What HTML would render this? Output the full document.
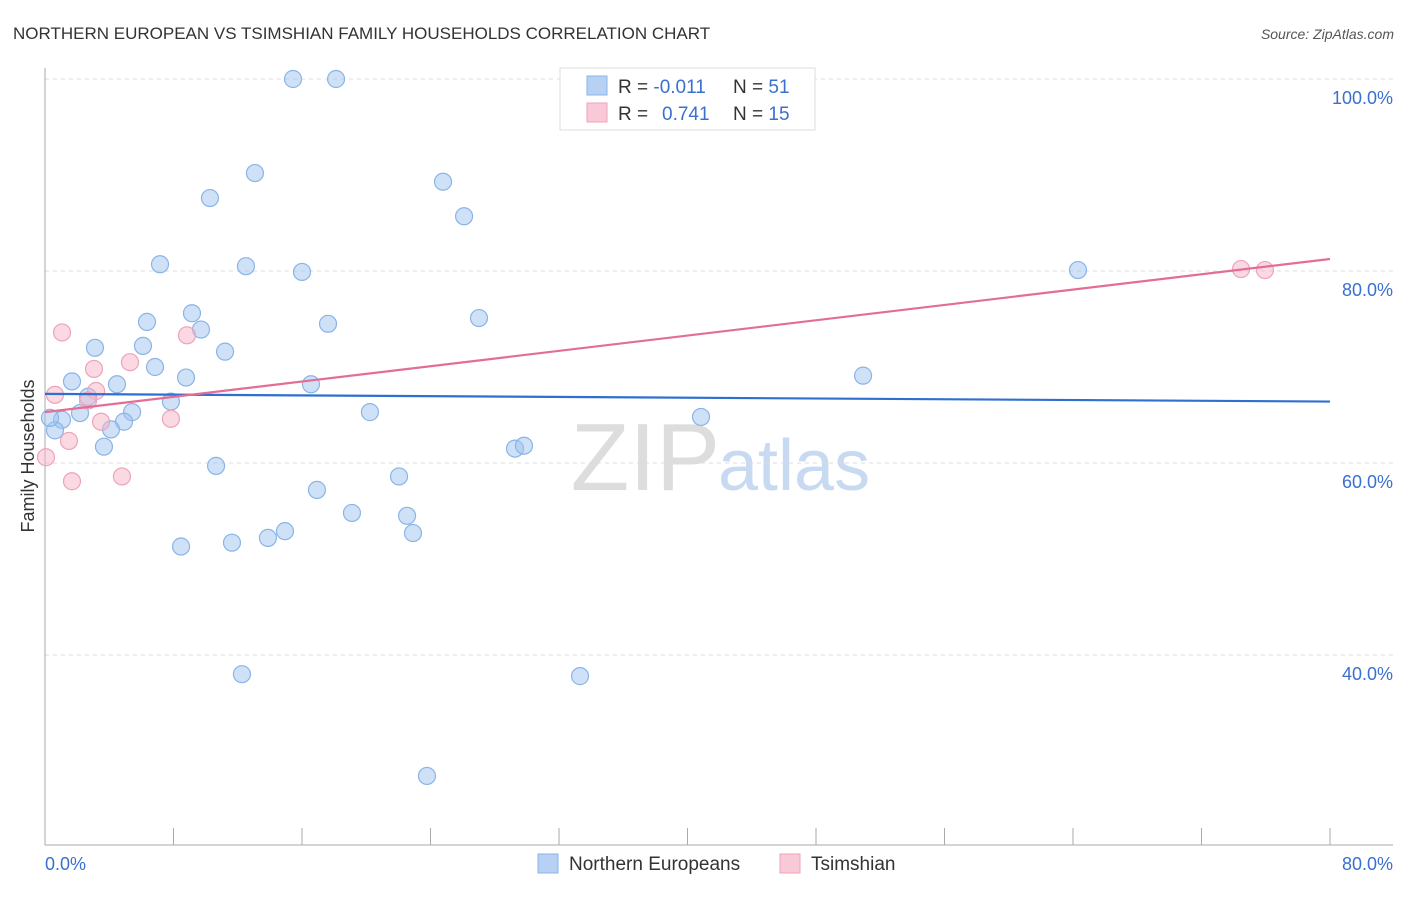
<!DOCTYPE html>
<html><head><meta charset="utf-8"><style>
body{margin:0;background:#fff;font-family:"Liberation Sans",sans-serif;}
svg text{font-family:"Liberation Sans",sans-serif;}
</style></head><body>
<svg id="chart" width="1406" height="892" viewBox="0 0 1406 892">
<text x="13" y="39" font-size="17" fill="#333">NORTHERN EUROPEAN VS TSIMSHIAN FAMILY HOUSEHOLDS CORRELATION CHART</text>
<text x="1394" y="39" font-size="14" fill="#555" text-anchor="end" font-style="italic">Source: ZipAtlas.com</text>
<text x="720" y="490" font-size="96" fill="#ddd" text-anchor="end" font-family="Liberation Serif">ZIP</text>
<text x="718" y="490" font-size="72" fill="#c8daf2">atlas</text>
<g id="grid"></g>
<g id="axes"></g>
<g id="marks"></g>
<text transform="translate(34,456) rotate(-90)" font-size="18" fill="#333" text-anchor="middle">Family Households</text>
<g>
<rect x="560" y="68" width="255" height="62" fill="#fff" stroke="#ddd"/>
<rect x="587" y="76" width="20" height="19" fill="#b7d1f5" stroke="#8ab4e8"/>
<text x="618" y="93" font-size="19" fill="#333">R = <tspan fill="#3a6fd0">-0.011</tspan><tspan x="733">N = </tspan><tspan fill="#3a6fd0">51</tspan></text>
<rect x="587" y="103" width="20" height="19" fill="#f9c9d8" stroke="#eda3bb"/>
<text x="618" y="120" font-size="19" fill="#333">R = <tspan x="662" fill="#3a6fd0">0.741</tspan><tspan x="733">N = </tspan><tspan fill="#3a6fd0">15</tspan></text>
</g>
<g>
<rect x="538" y="854" width="20" height="19" fill="#b7d1f5" stroke="#8ab4e8"/>
<text x="569" y="870" font-size="19" fill="#333">Northern Europeans</text>
<rect x="780" y="854" width="20" height="19" fill="#f9c9d8" stroke="#eda3bb"/>
<text x="811" y="870" font-size="19" fill="#333">Tsimshian</text>
</g>
</svg>
<script>
const blueX=[15.44,18.12,13.07,10.27,24.78,26.09,7.16,12.51,16.0,64.31,9.15,6.35,17.62,27.02,9.71,6.10,3.11,11.21,6.85,8.78,50.93,1.68,4.48,16.56,2.68,7.84,5.42,2.18,20.23,1.06,4.92,4.11,0.62,40.84,3.67,29.26,29.82,10.65,22.04,16.93,19.11,22.54,13.88,14.94,11.64,8.47,22.91,12.26,33.31,23.78,0.31];
const blueY=[100,100,90.2,87.6,89.3,85.7,80.7,80.5,79.9,80.1,75.6,74.7,74.5,75.1,73.9,72.2,72.0,71.6,70.0,68.9,69.1,68.5,68.2,68.2,66.9,66.4,65.3,65.2,65.3,64.5,64.3,63.5,63.4,64.8,61.7,61.5,61.8,59.7,58.6,57.2,54.8,54.5,52.2,52.9,51.7,51.3,52.7,38.0,37.8,27.4,64.7];
const pinkX=[0.62,1.06,3.05,3.18,2.68,3.49,1.49,0.06,1.68,4.79,5.29,8.84,7.84,74.46,75.95];
const pinkY=[67.1,73.6,69.8,67.5,66.5,64.3,62.3,60.6,58.1,58.6,70.5,73.3,64.6,80.2,80.1];
const blueTrend=[67.2,66.4];
const pinkTrend=[65.3,81.25];
const yTicks=[100,80,60,40];
const yTickLabels=["100.0%","80.0%","60.0%","40.0%"];
const xTickLabels=["0.0%","80.0%"];
const X=v=>45+v*(1285/80), Y=v=>79+(100-v)*9.6;
const NS="http://www.w3.org/2000/svg";
function mk(t,a,p){const e=document.createElementNS(NS,t);for(const k in a)e.setAttribute(k,a[k]);p.appendChild(e);return e;}
const grid=document.getElementById('grid'),axes=document.getElementById('axes'),marks=document.getElementById('marks');
yTicks.forEach((v,i)=>{
 const l=mk('line',{x1:45,x2:1393,y1:Y(v),y2:Y(v),stroke:'#ddd','stroke-dasharray':'4,4'},grid);
 
 
 const t=mk('text',{x:1393,y:Y(v)+25,'font-size':18,fill:'#3a6fd0','text-anchor':'end'},axes);
 t.textContent=yTickLabels[i];
 
 
});
let a=mk('line',{x1:45,x2:45,y1:68,y2:845,stroke:'#aaa'},axes);


a=mk('line',{x1:45,x2:1393,y1:845,y2:845,stroke:'#aaa'},axes);


for(let i=0;i<=10;i++){const t=mk('line',{x1:X(i*8),x2:X(i*8),y1:828,y2:845,stroke:'#aaa'},axes);
 
 }
let t1=mk('text',{x:45,y:870,'font-size':18,fill:'#3a6fd0'},axes);t1.textContent=xTickLabels[0];


t1=mk('text',{x:1393,y:870,'font-size':18,fill:'#3a6fd0','text-anchor':'end'},axes);t1.textContent=xTickLabels[1];


blueX.forEach((x,i)=>{const c=mk('circle',{cx:X(x),cy:Y(blueY[i]),r:8.5,fill:'rgba(160,195,240,0.5)',stroke:'#8ab4e8','stroke-width':1.2},marks);
 
 });
pinkX.forEach((x,i)=>{const c=mk('circle',{cx:X(x),cy:Y(pinkY[i]),r:8.5,fill:'rgba(245,180,200,0.5)',stroke:'#eda3bb','stroke-width':1.2},marks);
 
 });
let tl=mk('line',{x1:X(0),x2:X(80),y1:Y(blueTrend[0]),y2:Y(blueTrend[1]),stroke:'#2f6fd0','stroke-width':2.2},marks);


tl=mk('line',{x1:X(0),x2:X(80),y1:Y(pinkTrend[0]),y2:Y(pinkTrend[1]),stroke:'#e46d96','stroke-width':2.2},marks);


</script>
</body></html>
